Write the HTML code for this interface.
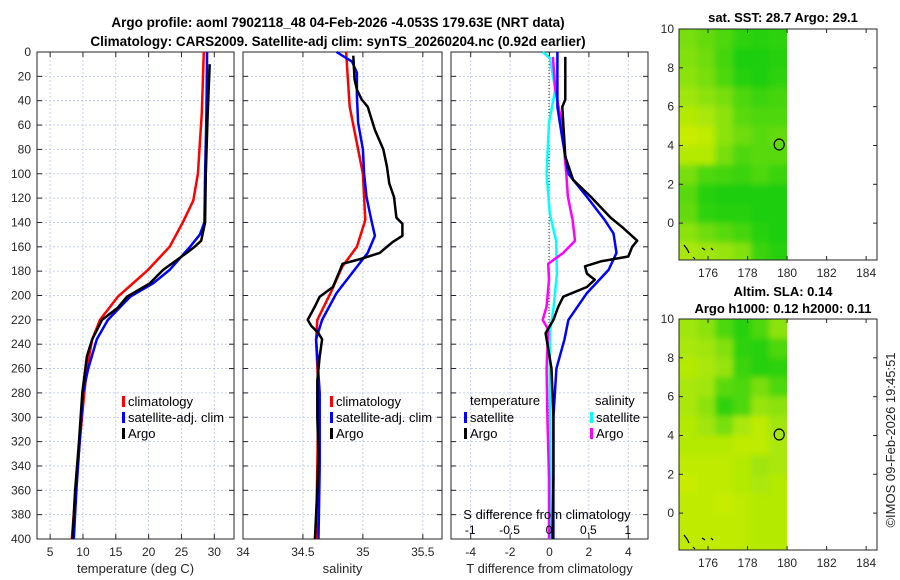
<!DOCTYPE html>
<html><head><meta charset="utf-8"><style>
html,body{margin:0;padding:0;background:#fff;}
svg{display:block;font-family:"Liberation Sans","DejaVu Sans",sans-serif;}
</style></head><body>
<svg id="c" width="900" height="580" viewBox="0 0 900 580">
<defs>
<filter id="bl" x="-5%" y="-5%" width="110%" height="110%"><feGaussianBlur stdDeviation="3"/></filter>
<clipPath id="cp1"><rect x="679" y="29" width="108" height="231"/></clipPath>
<clipPath id="cp2"><rect x="679" y="319" width="108" height="231"/></clipPath>
</defs>
</svg>
<script>
// ---- data ----
const depthTicks=[0,20,40,60,80,100,120,140,160,180,200,220,240,260,280,300,320,340,360,380,400];
const tTicks=[5,10,15,20,25,30];
const sTicks=[34,34.5,35,35.5];
const dTTicks=[-4,-2,0,2,4];
const dSTicks=[-1,-0.5,0,0.5,1];
const latTicks=[0,2,4,6,8,10];
const lonTicks=[176,178,180,182,184];

const tClimD=[0,50,100,122,140,160,179,201,220,236,260,280,320,360,400];
const tClimV=[28.4,28.1,27.5,26.8,25.2,23.2,19.9,15.3,12.6,11.4,10.6,10.2,9.5,8.9,8.3];
const tSatD=[0,50,100,140,150,160,179,190,201,220,236,260,280,320,360,400];
const tSatV=[28.9,28.8,28.6,28.5,27.8,26.3,23.2,20.7,17.2,13.8,12.1,10.8,10.0,9.5,9.0,8.6];
const tArgoD=[10,50,100,140,150,155,160,165,179,190,201,210,220,236,250,280,320,360,400];
const tArgoV=[29.3,29.0,28.7,28.6,28.2,28.0,27.0,25.8,22.2,20.2,16.7,15.3,12.9,11.4,10.6,9.9,9.4,8.8,8.4];

const sClimD=[0,45,100,138,160,176,198,220,236,280,340,400];
const sClimV=[34.86,34.89,35.0,35.02,34.95,34.83,34.73,34.62,34.61,34.63,34.62,34.61];
const sSatD=[0,8,17,36,58,80,100,119,138,151,165,179,198,220,236,280,340,400];
const sSatV=[34.78,34.91,34.95,34.95,34.96,35.0,35.01,35.03,35.07,35.1,35.04,34.93,34.78,34.66,34.61,34.64,34.64,34.63];
const sArgoD=[3,22,31,39,45,64,80,94,108,119,136,141,151,156,165,170,174,179,193,201,209,220,225,231,236,250,270,300,330,360,400];
const sArgoV=[34.92,34.93,34.95,34.99,35.04,35.1,35.17,35.2,35.22,35.26,35.28,35.33,35.33,35.25,35.14,34.98,34.83,34.81,34.75,34.64,34.6,34.54,34.57,34.63,34.66,34.64,34.62,34.62,34.63,34.62,34.6];

const dtSatD=[0,45,72,100,119,138,149,165,179,198,220,236,260,300,350,400];
const dtSatV=[0.4,0.4,0.66,0.96,1.9,2.8,3.25,3.4,3.0,1.9,0.96,0.76,0.35,0.2,0.2,0.2];
const dtArgoD=[4,39,45,86,105,119,136,144,155,160,168,172,176,182,187,193,201,209,220,231,260,300,350,400];
const dtArgoV=[0.8,0.8,0.65,0.8,1.2,2.1,3.1,3.7,4.45,4.2,4.0,2.6,1.8,1.9,2.3,1.9,0.7,0.45,0.2,-0.2,0.1,0.2,0.2,0.15];
const dsSatD=[0,5,31,58,100,133,155,182,209,231,280,340,400];
const dsSatV=[-0.08,0.01,0.08,0.0,-0.03,0.01,0.09,0.1,0.06,0.01,0.01,0.02,0.02];
const dsArgoD=[4,31,58,100,119,138,155,165,174,187,209,220,228,260,300,350,400];
const dsArgoV=[0.05,0.08,0.16,0.22,0.24,0.3,0.33,0.18,-0.01,0.0,-0.03,-0.08,-0.01,-0.03,-0.02,0.0,0.0];

const sstGrid=[
[0.5,0.4,0.3,0.15,0.1,0.15],[0.55,0.45,0.25,0.05,0.05,0.1],[0.6,0.5,0.3,0.1,0.05,0.15],
[0.7,0.6,0.5,0.3,0.2,0.25],[0.8,0.75,0.6,0.35,0.3,0.3],[0.9,0.85,0.6,0.45,0.35,0.4],
[0.8,0.8,0.5,0.3,0.35,0.35],[0.5,0.3,0.25,0.2,0.3,0.2],[0.35,0.1,0.05,0.05,0.05,0.05],
[0.4,0.15,0.1,0.1,0.05,0.05],[0.6,0.45,0.35,0.25,0.1,0.05],[0.75,0.7,0.65,0.55,0.2,0.1]];
const slaGrid=[
[0.7,0.6,0.3,0.1,0.3,0.6],[0.75,0.7,0.55,0.15,0.1,0.3],[0.8,0.75,0.65,0.2,0.1,0.15],
[0.75,0.7,0.35,0.3,0.5,0.3],[0.75,0.6,0.15,0.3,0.65,0.6],[0.8,0.7,0.5,0.75,0.85,0.7],
[0.8,0.8,0.8,0.85,0.85,0.75],[0.85,0.85,0.85,0.8,0.7,0.75],[0.9,0.85,0.85,0.8,0.75,0.8],
[0.85,0.85,0.9,0.85,0.8,0.8],[0.85,0.85,0.85,0.85,0.8,0.8],[0.85,0.85,0.85,0.85,0.8,0.8]];
const argoLon=179.6, argoLat=4.05;

// ---- helpers ----
const svg=document.getElementById('c');
const NS='http://www.w3.org/2000/svg';
function mk(tag,attrs,parent){const e=document.createElementNS(NS,tag);for(const k in attrs)e.setAttribute(k,attrs[k]);(parent||svg).appendChild(e);return e;}
function txt(x,y,s,opt){const e=mk('text',Object.assign({x:x,y:y,'font-size':12,fill:'#262626','text-anchor':'middle'},opt||{}));e.textContent=s;return e;}

const Y0=52,Y1=539;
const yD=d=>Y0+(d/400)*(Y1-Y0);

function panel(name,x0,x1,xmin,xmax,ticks,label,showDepth){
  const g=mk('g',{});
  
  
  const xs=v=>x0+(v-xmin)/(xmax-xmin)*(x1-x0);
  ticks.forEach(t=>{const x=xs(t);
    mk('line',{x1:x,x2:x,y1:Y0,y2:Y1,stroke:'#b8c4e0','stroke-width':0.8,'stroke-dasharray':'2,2'},g);
    mk('line',{x1:x,x2:x,y1:Y0,y2:Y0+5,stroke:'#262626'},g);
    mk('line',{x1:x,x2:x,y1:Y1,y2:Y1-5,stroke:'#262626'},g);
    if(label!==null){const e=txt(x,556,String(t),{},g);g.appendChild(e);}
  });
  depthTicks.forEach(d=>{const y=yD(d);
    mk('line',{x1:x0,x2:x1,y1:y,y2:y,stroke:'#b8c4e0','stroke-width':0.8,'stroke-dasharray':'2,2'},g);
    mk('line',{x1:x0,x2:x0+5,y1:y,y2:y,stroke:'#262626'},g);
    mk('line',{x1:x1,x2:x1-5,y1:y,y2:y,stroke:'#262626'},g);
    if(showDepth){const e=txt(31,y+4,String(d),{'text-anchor':'end'});g.appendChild(e);}
  });
  mk('rect',{x:x0,y:Y0,width:x1-x0,height:Y1-Y0,fill:'none',stroke:'#262626','stroke-width':1},g);
  if(label){const e=txt((x0+x1)/2,573,label,{'font-size':13});g.appendChild(e);}
  return xs;
}
function line(xs,D,V,color,name,w){
  const pts=D.map((d,i)=>xs(V[i]).toFixed(1)+','+yD(d).toFixed(1)).join(' ');
  const e=mk('polyline',{points:pts,fill:'none',stroke:color,'stroke-width':w||2.5,'stroke-linejoin':'round'});
  
  
}
function legend(x,y,items){
  items.forEach((it,i)=>{
    mk('rect',{x:x,y:y+i*16-10,width:3,height:11,fill:it[1]});
    const e=txt(x+6,y+i*16,it[0],{'text-anchor':'start','font-size':13,fill:'#000'});
    
    
  });
}

// titles
let t=txt(338,27,'Argo profile: aoml 7902118_48 04-Feb-2026 -4.053S 179.63E (NRT data)',{'font-size':13.5,'font-weight':'bold',fill:'#000'});

t=txt(338,46,'Climatology: CARS2009. Satellite-adj clim: synTS_20260204.nc (0.92d earlier)',{'font-size':13.5,'font-weight':'bold',fill:'#000'});


// panel 1
const xT=panel('temperature-panel',37,234,3,33,tTicks,'temperature (deg C)',true);
line(xT,tClimD,tClimV,'#ff0000','temp-climatology-line');
line(xT,tSatD,tSatV,'#0000ff','temp-satellite-line');
line(xT,tArgoD,tArgoV,'#000000','temp-argo-line');
legend(122,406,[['climatology','#f00'],['satellite-adj. clim','#00f'],['Argo','#000']]);

// panel 2
const xS=panel('salinity-panel',243,442,34,35.66,sTicks,'salinity',false);
line(xS,sClimD,sClimV,'#ff0000','sal-climatology-line');
line(xS,sSatD,sSatV,'#0000ff','sal-satellite-line');
line(xS,sArgoD,sArgoV,'#000000','sal-argo-line');
legend(330,406,[['climatology','#f00'],['satellite-adj. clim','#00f'],['Argo','#000']]);

// panel 3
const xdT=panel('difference-panel',451,648,-5,5,dTTicks,'T difference from climatology',false);
const xdS=v=>549+v*78.8;
mk('line',{x1:549,x2:549,y1:Y0,y2:Y1,stroke:'#333','stroke-width':1,'stroke-dasharray':'1,2'});
line(xdS,dsSatD,dsSatV,'#00ffff','sal-diff-satellite-line');
line(xdS,dsArgoD,dsArgoV,'#ff00ff','sal-diff-argo-line');
line(xdT,dtSatD,dtSatV,'#0000ff','temp-diff-satellite-line');
line(xdT,dtArgoD,dtArgoV,'#000000','temp-diff-argo-line');
t=txt(470,405,'temperature',{'text-anchor':'start','font-size':13,fill:'#000'});
t=txt(595,405,'salinity',{'text-anchor':'start','font-size':13,fill:'#000'});
legend(464,422,[['satellite','#00f'],['Argo','#000']]);
legend(590,422,[['satellite','#0ff'],['Argo','#f0f']]);
t=txt(547,519,'S difference from climatology',{'font-size':13,fill:'#000'});
dSTicks.forEach(v=>{const e=txt(xdS(v),534,String(v),{fill:'#000'});});

// maps
function colr(v){const a=[16,204,16],b=[120,222,16],c=[220,240,0];let p,q,f;
  if(v<0.5){p=a;q=b;f=v/0.5;}else{p=b;q=c;f=(v-0.5)/0.5;}
  return 'rgb('+p.map((x,i)=>Math.round(x+(q[i]-x)*f)).join(',')+')';}
function map(name,top,bottom,grid,clip){
  const g=mk('g',{});
  
  
  const x0=679,x1=877,lonMin=174.53,lonMax=184.55,latMax=10,latMin=-1.9;
  const xs=l=>x0+(l-lonMin)/(lonMax-lonMin)*(x1-x0);
  const ys=l=>top+(latMax-l)/(latMax-latMin)*(bottom-top);
  const nc=grid[0].length, cw=(180-lonMin)/nc;
  const cg=mk('g',{'clip-path':'url(#'+clip+')'},g);
  const bg=mk('g',{filter:'url(#bl)'},cg);
  grid.forEach((row,r)=>row.forEach((v,c)=>{
    const la=latMax-r+(r===0?1:0), lb=(r===grid.length-1)?latMin-1:latMax-r-1;
    const xa=lonMin+c*cw-(c===0?1:0), xb=lonMin+(c+1)*cw+(c===nc-1?1:0);
    const cell=mk('rect',{x:xs(xa),y:ys(la),width:xs(xb)-xs(xa)+0.5,height:ys(lb)-ys(la)+0.5,fill:colr(v)},bg);
    
    
  }));
  lonTicks.forEach(l=>{const x=xs(l);
    mk('line',{x1:x,x2:x,y1:bottom,y2:bottom-4,stroke:'#262626'},g);
    mk('line',{x1:x,x2:x,y1:top,y2:top+4,stroke:'#262626'},g);
    const e=txt(x,bottom+17,String(l),{},g);g.appendChild(e);});
  latTicks.forEach(l=>{const y=ys(l);
    mk('line',{x1:x0,x2:x0+4,y1:y,y2:y,stroke:'#262626'},g);
    mk('line',{x1:x1,x2:x1-4,y1:y,y2:y,stroke:'#262626'},g);
    const e=txt(x0-5,y+4,String(l),{'text-anchor':'end'});g.appendChild(e);});
  mk('rect',{x:x0,y:top,width:x1-x0,height:bottom-top,fill:'none',stroke:'#262626'},g);
  mk('path',{d:`M${x0+5} ${bottom-15} l3 4 l2 4 M${x0+23} ${bottom-12} l3 2 M${x0+32} ${bottom-12} l2 2 M${x0+14} ${bottom-3} l2 2`,stroke:'#000',fill:'none','stroke-width':1.2},g);
  const ci=mk('ellipse',{cx:xs(argoLon),cy:ys(argoLat),rx:5,ry:5.5,fill:'none',stroke:'#000','stroke-width':1.2},g);
  
  
}
map('sst-map',29,260,sstGrid,'cp1');
map('sla-map',319,550,slaGrid,'cp2');
t=txt(783,22,'sat. SST: 28.7 Argo: 29.1',{'font-size':13,'font-weight':'bold',fill:'#000'});
t=txt(783,296,'Altim. SLA: 0.14',{'font-size':13,'font-weight':'bold',fill:'#000'});
t=txt(783,313,'Argo h1000: 0.12 h2000: 0.11',{'font-size':13,'font-weight':'bold',fill:'#000'});
t=txt(0,0,'©IMOS 09-Feb-2026 19:45:51',{'font-size':13,fill:'#222',transform:'translate(895,440) rotate(-90)'});
</script>
</body></html>
